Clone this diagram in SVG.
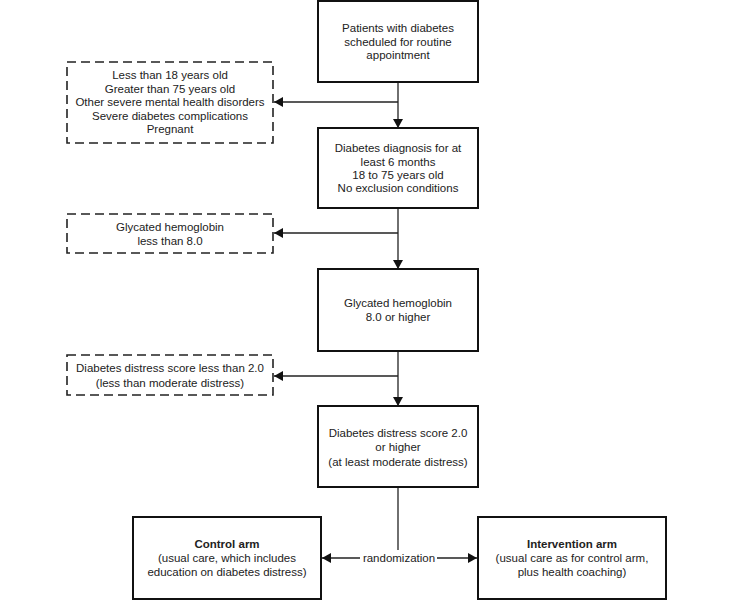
<svg xmlns="http://www.w3.org/2000/svg" width="733" height="600" viewBox="0 0 733 600">
<style>
text{font-family:"Liberation Sans",Arial,sans-serif;font-size:11.5px;fill:#222;text-anchor:middle}
.b{font-weight:bold}
.box{fill:#fff;stroke:#111;stroke-width:2}
.dbox{fill:#fff;stroke:#222;stroke-width:1.6;stroke-dasharray:9,5}
.ln{fill:none;stroke:#222;stroke-width:1.3}
</style>
<defs>
<marker id="ah" viewBox="0 0 10 10" refX="10" refY="5" markerWidth="9" markerHeight="10" markerUnits="userSpaceOnUse" orient="auto" preserveAspectRatio="none">
<path d="M0,0 L10,5 L0,10 Z" fill="#111"/>
</marker>
</defs>
<rect width="733" height="600" fill="#fff"/>
<g id="connectors">
<line class="ln" x1="398" y1="82" x2="398" y2="128" marker-end="url(#ah)"/>
<line class="ln" x1="398" y1="102" x2="274" y2="102" marker-end="url(#ah)"/>
<line class="ln" x1="398" y1="208" x2="398" y2="269" marker-end="url(#ah)"/>
<line class="ln" x1="398" y1="233" x2="274" y2="233" marker-end="url(#ah)"/>
<line class="ln" x1="398" y1="351" x2="398" y2="406" marker-end="url(#ah)"/>
<line class="ln" x1="398" y1="376" x2="274" y2="376" marker-end="url(#ah)"/>
<line class="ln" x1="398" y1="487" x2="398" y2="550"/>
<line class="ln" x1="360" y1="558" x2="322" y2="558" marker-end="url(#ah)"/>
<line class="ln" x1="437" y1="558" x2="477" y2="558" marker-end="url(#ah)"/>
<text x="399" y="562">randomization</text>
</g>
<g id="n1">
<rect class="box" x="318" y="1" width="160" height="81"/>
<text x="398" y="32">Patients with diabetes</text>
<text x="398" y="46">scheduled for routine</text>
<text x="398" y="59">appointment</text>
</g>
<g id="x1">
<rect class="dbox" x="67" y="62" width="206" height="81"/>
<text x="170" y="79">Less than 18 years old</text>
<text x="170" y="93">Greater than 75 years old</text>
<text x="170" y="106">Other severe mental health disorders</text>
<text x="170" y="120">Severe diabetes complications</text>
<text x="170" y="133">Pregnant</text>
</g>
<g id="n2">
<rect class="box" x="318" y="128" width="160" height="80"/>
<text x="398" y="152">Diabetes diagnosis for at</text>
<text x="398" y="166">least 6 months</text>
<text x="398" y="179">18 to 75 years old</text>
<text x="398" y="192">No exclusion conditions</text>
</g>
<g id="x2">
<rect class="dbox" x="67" y="214" width="206" height="39"/>
<text x="170" y="231">Glycated hemoglobin</text>
<text x="170" y="245">less than 8.0</text>
</g>
<g id="n3">
<rect class="box" x="318" y="269" width="160" height="82"/>
<text x="398" y="307">Glycated hemoglobin</text>
<text x="398" y="321">8.0 or higher</text>
</g>
<g id="x3">
<rect class="dbox" x="67" y="355" width="206" height="40"/>
<text x="170" y="372">Diabetes distress score less than 2.0</text>
<text x="170" y="387">(less than moderate distress)</text>
</g>
<g id="n4">
<rect class="box" x="318" y="406" width="160" height="81"/>
<text x="398" y="437">Diabetes distress score 2.0</text>
<text x="398" y="451">or higher</text>
<text x="398" y="466">(at least moderate distress)</text>
</g>
<g id="control">
<rect class="box" x="133" y="517" width="188" height="82"/>
<text class="b" x="227" y="548">Control arm</text>
<text x="227" y="562">(usual care, which includes</text>
<text x="227" y="576">education on diabetes distress)</text>
</g>
<g id="intervention">
<rect class="box" x="478" y="517" width="188" height="82"/>
<text class="b" x="572" y="548">Intervention arm</text>
<text x="572" y="562">(usual care as for control arm,</text>
<text x="572" y="576">plus health coaching)</text>
</g>
</svg>
